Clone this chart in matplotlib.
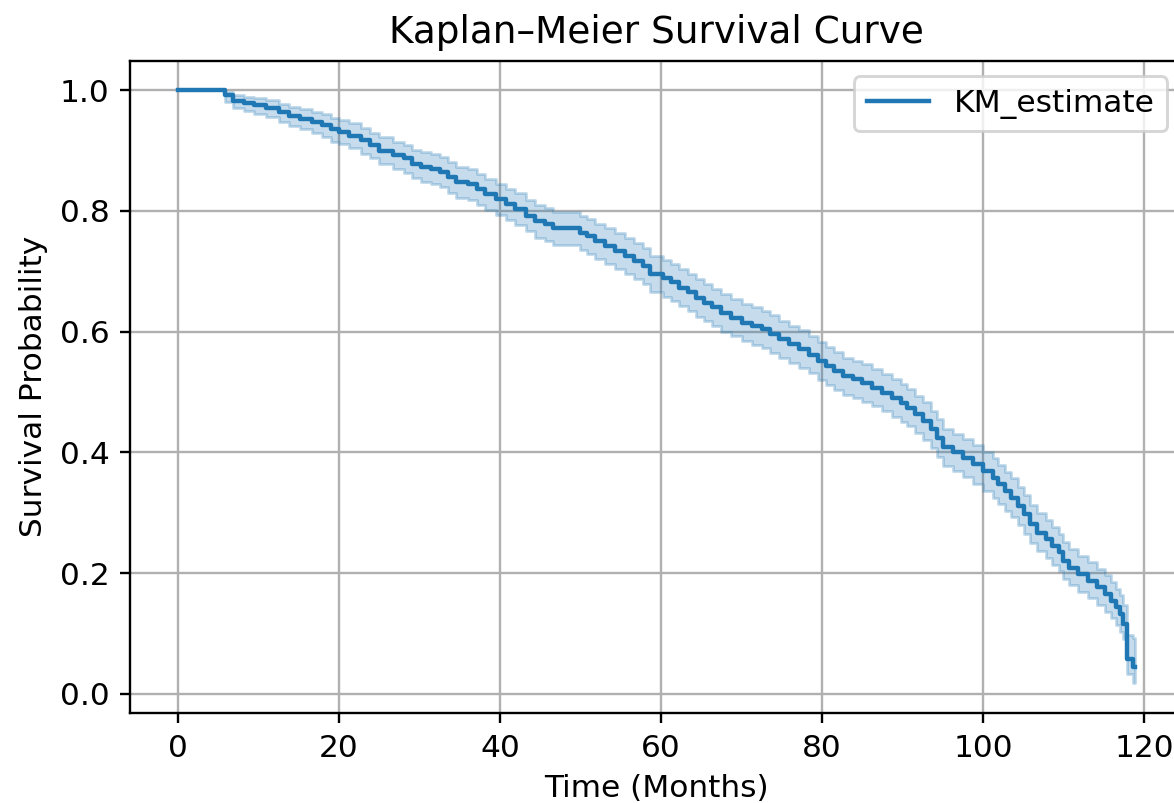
import matplotlib
matplotlib.use("Agg")
import matplotlib.pyplot as plt

# Kaplan-Meier step data
times = [0.0, 5.8, 6.8, 8.2, 9.5, 11.0, 12.5, 13.8, 15.2, 16.6, 17.9, 19.0, 20.0,
         21.3, 22.8, 23.8, 25.0, 26.7, 28.1, 29.1, 30.2, 31.5, 32.5, 33.5, 34.6,
         36.0, 37.2, 38.2, 39.5, 40.7, 41.9, 43.2, 44.4, 45.6, 46.6, 49.9, 50.8,
         51.8, 53.0, 54.3, 55.5, 56.7, 57.8, 58.6, 60.2, 61.3, 62.3, 63.4, 64.4,
         65.4, 66.4, 67.5, 68.7, 70.1, 71.3, 72.5, 73.5, 74.7, 75.9, 77.2, 78.4,
         79.5, 80.5, 81.5, 82.6, 83.8, 85.0, 86.2, 87.5, 88.7, 89.8, 90.6, 91.5,
         92.5, 93.5, 94.3, 95.0, 96.3, 97.5, 98.8, 100.0, 101.2, 101.9, 102.7,
         103.5, 104.3, 105.1, 105.9, 106.7, 107.8, 108.6, 109.4, 110.0, 110.7,
         111.8, 113.0, 114.2, 115.1, 115.9, 116.5, 117.0, 117.4, 117.9, 118.6, 118.9]

survival = [1.000, 0.992, 0.983, 0.979, 0.975, 0.971, 0.964, 0.958, 0.953, 0.947, 0.942, 0.935, 0.931,
            0.925, 0.917, 0.909, 0.900, 0.892, 0.887, 0.878, 0.873, 0.870, 0.865, 0.856, 0.848,
            0.844, 0.836, 0.828, 0.819, 0.811, 0.803, 0.792, 0.783, 0.778, 0.771, 0.764, 0.758,
            0.750, 0.742, 0.733, 0.725, 0.717, 0.709, 0.695, 0.689, 0.682, 0.673, 0.665, 0.656,
            0.648, 0.640, 0.631, 0.623, 0.615, 0.609, 0.604, 0.596, 0.587, 0.579, 0.571, 0.562,
            0.551, 0.543, 0.535, 0.526, 0.521, 0.515, 0.507, 0.499, 0.490, 0.482, 0.474, 0.463,
            0.452, 0.438, 0.424, 0.408, 0.400, 0.391, 0.380, 0.369, 0.358, 0.347, 0.336,
            0.325, 0.311, 0.297, 0.281, 0.267, 0.256, 0.245, 0.234, 0.220, 0.209,
            0.198, 0.187, 0.176, 0.165, 0.154, 0.143, 0.132, 0.116, 0.057, 0.044, 0.044]

ci_lower = [1.000, 0.981, 0.970, 0.965, 0.960, 0.956, 0.948, 0.941, 0.935, 0.929, 0.923, 0.915, 0.911,
            0.904, 0.895, 0.887, 0.877, 0.869, 0.863, 0.854, 0.848, 0.845, 0.839, 0.830, 0.822,
            0.818, 0.810, 0.802, 0.793, 0.785, 0.777, 0.766, 0.756, 0.751, 0.743, 0.735, 0.729,
            0.721, 0.712, 0.703, 0.695, 0.687, 0.679, 0.665, 0.658, 0.651, 0.642, 0.634, 0.625,
            0.617, 0.609, 0.600, 0.592, 0.584, 0.578, 0.573, 0.565, 0.556, 0.548, 0.540, 0.531,
            0.520, 0.512, 0.504, 0.495, 0.490, 0.484, 0.476, 0.468, 0.459, 0.451, 0.443, 0.432,
            0.421, 0.407, 0.393, 0.377, 0.369, 0.359, 0.347, 0.336, 0.325, 0.314, 0.303,
            0.292, 0.279, 0.265, 0.250, 0.236, 0.225, 0.214, 0.204, 0.190, 0.180,
            0.169, 0.158, 0.147, 0.136, 0.125, 0.114, 0.103, 0.090, 0.032, 0.017, 0.017]

ci_upper = [1.000, 0.997, 0.992, 0.989, 0.987, 0.984, 0.978, 0.973, 0.969, 0.964, 0.960, 0.954, 0.950,
            0.945, 0.938, 0.930, 0.922, 0.914, 0.910, 0.901, 0.897, 0.894, 0.890, 0.881, 0.873,
            0.869, 0.861, 0.853, 0.845, 0.837, 0.829, 0.818, 0.810, 0.805, 0.798, 0.792, 0.786,
            0.779, 0.771, 0.763, 0.755, 0.747, 0.739, 0.725, 0.719, 0.712, 0.704, 0.696, 0.687,
            0.679, 0.671, 0.662, 0.654, 0.646, 0.640, 0.635, 0.627, 0.618, 0.610, 0.602, 0.593,
            0.582, 0.574, 0.566, 0.557, 0.552, 0.546, 0.538, 0.530, 0.521, 0.513, 0.505, 0.494,
            0.483, 0.469, 0.455, 0.439, 0.431, 0.422, 0.412, 0.401, 0.390, 0.379, 0.368,
            0.357, 0.343, 0.329, 0.313, 0.299, 0.288, 0.276, 0.265, 0.251, 0.240,
            0.229, 0.218, 0.207, 0.196, 0.185, 0.174, 0.163, 0.147, 0.098, 0.093, 0.093]

label = "KM_estimate"
title = "Kaplan\u2013Meier Survival Curve"
xlabel = "Time (Months)"
ylabel = "Survival Probability"

plt.rcParams["font.size"] = 10.6

DPI = 212
fig = plt.figure(figsize=(1174 / DPI, 803 / DPI), dpi=DPI)
ax = fig.add_axes([130 / 1174, (803 - 713) / 803, (1183 - 130) / 1174, (713 - 60.7) / 803])

color = "#1f77b4"
ax.fill_between(times, ci_lower, ci_upper, step="post", color=color, alpha=0.25, linewidth=1.0)
ax.plot(times, survival, drawstyle="steps-post", color=color, linewidth=1.5, label=label)

ax.set_xlim(-5.95, 124.85)
ax.set_ylim(-0.032, 1.049)
ax.set_xticks([0, 20, 40, 60, 80, 100, 120])
ax.set_yticks([0.0, 0.2, 0.4, 0.6, 0.8, 1.0])
ax.grid(True)
ax.set_axisbelow(True)
ax.set_title(title, fontsize=12.7)
ax.set_xlabel(xlabel)
ax.set_ylabel(ylabel)
ax.legend(loc="upper right")

fig.savefig("out.png", dpi=DPI)
